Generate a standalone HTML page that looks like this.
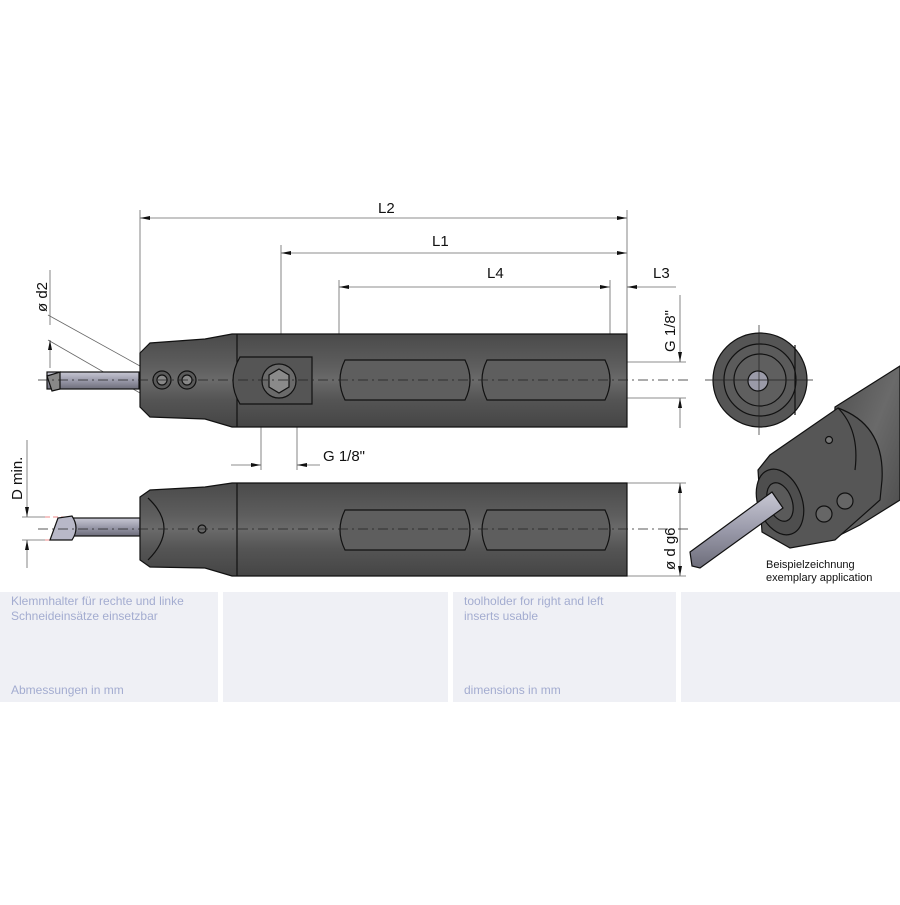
<!DOCTYPE html>
<html><head><meta charset="utf-8"><style>
body{margin:0;background:#fff;width:900px;height:900px;overflow:hidden;font-family:"Liberation Sans",sans-serif}
</style></head><body>
<svg width="900" height="900" viewBox="0 0 900 900" xmlns="http://www.w3.org/2000/svg">
<defs>
<linearGradient id="bd" x1="0" y1="0" x2="0" y2="1">
<stop offset="0" stop-color="#4a4a4a"/><stop offset="0.35" stop-color="#5e5e5e"/><stop offset="0.5" stop-color="#6a6a6a"/><stop offset="0.7" stop-color="#555"/><stop offset="1" stop-color="#454545"/></linearGradient>
<linearGradient id="tl" x1="0" y1="0" x2="0" y2="1">
<stop offset="0" stop-color="#c8c8d4"/><stop offset="0.5" stop-color="#9a9aaa"/><stop offset="1" stop-color="#6d6d7a"/></linearGradient>
<linearGradient id="cy" x1="0" y1="0" x2="1" y2="1">
<stop offset="0" stop-color="#4c4c4c"/><stop offset="0.5" stop-color="#6a6a6a"/><stop offset="1" stop-color="#4a4a4a"/></linearGradient>
<marker id="a" viewBox="0 0 10 4" refX="10" refY="2" markerWidth="10" markerHeight="4" orient="auto-start-reverse" markerUnits="userSpaceOnUse"><path d="M0,0L10,2L0,4z" fill="#111"/></marker>
</defs>
<g stroke="#666" stroke-width="0.8" fill="none">
<line x1="140" y1="218" x2="627" y2="218" marker-start="url(#a)" marker-end="url(#a)"/>
<line x1="281" y1="253" x2="627" y2="253" marker-start="url(#a)" marker-end="url(#a)"/>
<line x1="339" y1="287" x2="610" y2="287" marker-start="url(#a)" marker-end="url(#a)"/>
<line x1="640" y1="287" x2="676" y2="287"/>
<line x1="640" y1="287" x2="627" y2="287" marker-end="url(#a)"/>
<line x1="140" y1="210" x2="140" y2="362"/>
<line x1="627" y1="210" x2="627" y2="334"/>
<line x1="281" y1="245" x2="281" y2="380"/>
<line x1="339" y1="280" x2="339" y2="340"/>
<line x1="610" y1="280" x2="610" y2="340"/>
<line x1="627" y1="362" x2="686" y2="362"/>
<line x1="627" y1="398" x2="686" y2="398"/>
<line x1="680" y1="295" x2="680" y2="362" marker-end="url(#a)"/>
<line x1="680" y1="428" x2="680" y2="398" marker-end="url(#a)"/>
<line x1="627" y1="483" x2="686" y2="483"/>
<line x1="627" y1="576" x2="686" y2="576"/>
<line x1="680" y1="483" x2="680" y2="576" marker-start="url(#a)" marker-end="url(#a)"/>
<line x1="261" y1="385" x2="261" y2="470"/>
<line x1="297" y1="385" x2="297" y2="470"/>
<line x1="231" y1="465" x2="261" y2="465" marker-end="url(#a)"/>
<line x1="320" y1="465" x2="297" y2="465" marker-end="url(#a)"/>
<line x1="48" y1="315" x2="140" y2="366"/>
<line x1="48" y1="340" x2="140" y2="393"/>
<line x1="50" y1="270" x2="50" y2="325"/>
<line x1="50" y1="368" x2="50" y2="340" marker-end="url(#a)"/>
<line x1="27" y1="440" x2="27" y2="517" marker-end="url(#a)"/>
<line x1="27" y1="568" x2="27" y2="540" marker-end="url(#a)"/>
<line x1="22" y1="517" x2="45" y2="517"/>
<line x1="22" y1="540" x2="45" y2="540"/>
</g>
<line x1="45" y1="517" x2="72" y2="517" stroke="#e88" stroke-dasharray="5 3"/>
<line x1="45" y1="540" x2="72" y2="540" stroke="#e88" stroke-dasharray="5 3"/>

<g stroke="#111" stroke-width="1.2">
<rect x="47" y="372" width="92" height="17" fill="url(#tl)"/>
<path d="M47,376L60,372L60,389L52,391z" fill="#888"/>
<path d="M140,353L150,343L205,339L232,334L627,334L627,427L232,427L205,419L150,417L140,407z" fill="url(#bd)"/>
<line x1="237" y1="334" x2="237" y2="427"/>
<path d="M240,357L312,357L312,404L240,404Q226,381 240,357z" fill="#555"/>
<circle cx="279" cy="381" r="17" fill="#6a6a6a"/>
<polygon points="279,369 289,375 289,387 279,393 269,387 269,375" fill="#8a8a8a"/>
<circle cx="162" cy="380" r="9" fill="#5a5a5a"/><circle cx="162" cy="380" r="5" fill="#888"/>
<circle cx="187" cy="380" r="9" fill="#5a5a5a"/><circle cx="187" cy="380" r="5" fill="#888"/>
<path d="M345,360L465,360Q475,380 465,400L345,400Q335,380 345,360z" fill="#5e5e5e"/>
<path d="M487,360L605,360Q615,380 605,400L487,400Q477,380 487,360z" fill="#5e5e5e"/>
</g>
<line x1="38" y1="380" x2="690" y2="380" stroke="#222" stroke-width="0.7" stroke-dasharray="10 4 2 4"/>

<g stroke="#111" stroke-width="1.2">
<rect x="70" y="518" width="70" height="18" fill="url(#tl)"/>
<path d="M50,540L58,518L72,516Q80,528 72,540z" fill="#b8b8c8"/>
<path d="M140,497L150,490L205,487L232,483L627,483L627,576L232,576L205,568L150,567L140,560z" fill="url(#bd)"/>
<line x1="237" y1="483" x2="237" y2="576"/>
<path d="M148,498Q180,528 148,560" fill="none"/>
<circle cx="202" cy="529" r="4" fill="#666"/>
<path d="M345,510L465,510Q475,530 465,550L345,550Q335,530 345,510z" fill="#5e5e5e"/>
<path d="M487,510L605,510Q615,530 605,550L487,550Q477,530 487,510z" fill="#5e5e5e"/>
</g>
<line x1="38" y1="529" x2="690" y2="529" stroke="#222" stroke-width="0.7" stroke-dasharray="10 4 2 4"/>

<g stroke="#111" stroke-width="1.2">
<circle cx="760" cy="380" r="47" fill="#555"/>
<circle cx="760" cy="380" r="36" fill="#5b5b5b"/>
<circle cx="760" cy="380" r="26" fill="#5f5f5f"/>
<circle cx="758" cy="381" r="10" fill="#9a9aa8"/>
<line x1="795" y1="345" x2="795" y2="415"/>
</g>
<g stroke="#222" stroke-width="0.7"><line x1="705" y1="380" x2="813" y2="380"/><line x1="759" y1="325" x2="759" y2="435"/></g>

<!-- 3D view -->
<g stroke="#111" stroke-width="1.2">
<path d="M835,407L900,366L900,500L860,525L830,540z" fill="url(#cy)"/>
<path d="M758,470L770,455L838,408Q885,425 882,480L880,500L835,540L790,548L762,532z" fill="#565656"/>
<path d="M838,408Q860,430 855,470" fill="none"/>
<ellipse cx="780" cy="502" rx="22" ry="34" transform="rotate(-20 780 502)" fill="#4e4e4e"/>
<ellipse cx="780" cy="502" rx="12" ry="20" transform="rotate(-20 780 502)" fill="#5a5a5a"/>
<circle cx="824" cy="514" r="8" fill="#666"/><circle cx="845" cy="501" r="8" fill="#666"/>
<circle cx="829" cy="440" r="3.5" fill="#777"/>
<path d="M690,552L772,492L783,508L700,568L692,566z" fill="url(#tl)"/>
</g>

<g font-family="Liberation Sans,sans-serif" fill="#111">
<text x="378" y="213" font-size="15">L2</text>
<text x="432" y="246" font-size="15">L1</text>
<text x="487" y="278" font-size="15">L4</text>
<text x="653" y="278" font-size="15">L3</text>
<text x="323" y="461" font-size="15">G 1/8"</text>
<text transform="translate(675,352) rotate(-90)" font-size="15">G 1/8"</text>
<text transform="translate(675,570) rotate(-90)" font-size="15">ø d g6</text>
<text transform="translate(47,312) rotate(-90)" font-size="15">ø d2</text>
<text transform="translate(22,500) rotate(-90)" font-size="15">D min.</text>
<text x="766" y="568" font-size="11">Beispielzeichnung</text>
<text x="766" y="581" font-size="11">exemplary application</text>
</g>

<g fill="#eff0f5">
<rect x="0" y="592" width="218" height="110"/>
<rect x="223" y="592" width="225" height="110"/>
<rect x="453" y="592" width="223" height="110"/>
<rect x="681" y="592" width="219" height="110"/>
</g>
<g font-family="Liberation Sans,sans-serif" font-size="12" fill="#a3acd0">
<text x="11" y="605">Klemmhalter für rechte und linke</text>
<text x="11" y="620">Schneideinsätze einsetzbar</text>
<text x="11" y="694">Abmessungen in mm</text>
<text x="464" y="605">toolholder for right and left</text>
<text x="464" y="620">inserts usable</text>
<text x="464" y="694">dimensions in mm</text>
</g>
</svg>
</body></html>
